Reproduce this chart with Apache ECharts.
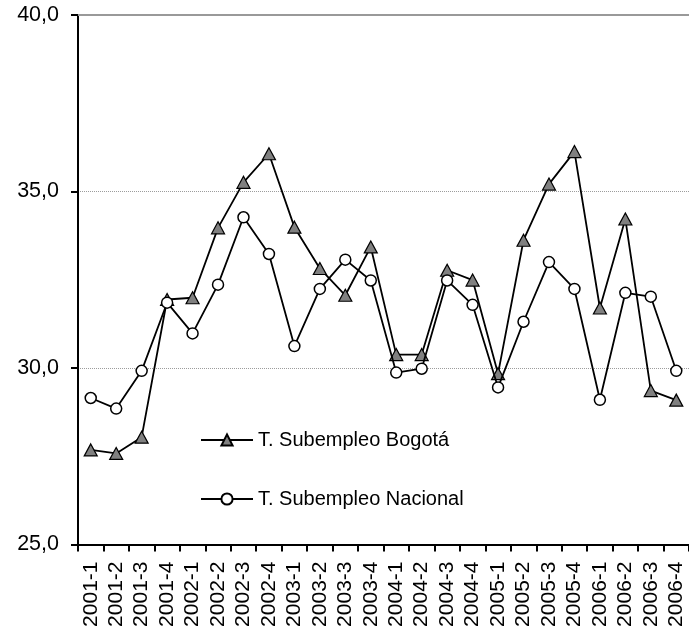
<!DOCTYPE html>
<html>
<head>
<meta charset="utf-8">
<script src="https://cdn.jsdelivr.net/npm/echarts@6/dist/echarts.min.js"></script>
<style>
  html, body { margin: 0; padding: 0; background: #ffffff; }
  #chart { width: 689px; height: 633px; }
</style>
</head>
<body>
<div id="chart"></div>
<script>
// Quarterly underemployment rate (%), Bogotá vs. national
const categories = [
  '2001-1', '2001-2', '2001-3', '2001-4',
  '2002-1', '2002-2', '2002-3', '2002-4',
  '2003-1', '2003-2', '2003-3', '2003-4',
  '2004-1', '2004-2', '2004-3', '2004-4',
  '2005-1', '2005-2', '2005-3', '2005-4',
  '2006-1', '2006-2', '2006-3', '2006-4'
];
const bogota = [
  27.68, 27.58, 28.04, 31.94,
  31.99, 33.97, 35.26, 36.07,
  33.99, 32.82, 32.06, 33.43,
  30.38, 30.38, 32.77, 32.49,
  29.84, 33.62, 35.21, 36.13,
  31.70, 34.22, 29.36, 29.09
];
const nacional = [
  29.15, 28.85, 29.92, 31.85,
  30.98, 32.36, 34.27, 33.23,
  30.62, 32.24, 33.07, 32.48,
  29.87, 29.98, 32.48, 31.79,
  29.45, 31.31, 33.00, 32.24,
  29.10, 32.13, 32.02, 29.92
];
const seriesNames = ['T. Subempleo Bogotá', 'T. Subempleo Nacional'];
const yTicks = { min: 25, max: 40, step: 5 };

const FONT = '"Liberation Sans", Arial, sans-serif';
const chart = echarts.init(document.getElementById('chart'), null, { renderer: 'canvas' });

chart.setOption({
  animation: false,
  backgroundColor: '#ffffff',
  textStyle: { fontFamily: FONT, color: '#000' },
  grid: { left: 78, top: 15, width: 619, height: 529.5, containLabel: false },
  legend: {
    orient: 'vertical',
    left: 195,
    top: 425,
    itemWidth: 52,
    itemHeight: 14,
    itemGap: 39,
    textStyle: { fontFamily: FONT, fontSize: 20, color: '#000' },
    data: seriesNames
  },
  xAxis: [
    {
      type: 'category',
      data: categories,
      boundaryGap: true,
      axisLine: { show: true, lineStyle: { color: '#000', width: 2 } },
      axisTick: { show: true, alignWithLabel: false, length: 7, lineStyle: { color: '#000', width: 2 } },
      axisLabel: {
        rotate: 90,
        interval: 0,
        margin: 17,
        fontFamily: FONT,
        fontSize: 21,
        color: '#000'
      },
      splitLine: { show: false }
    },
    {
      // top frame line at the axis maximum
      type: 'category',
      data: categories,
      position: 'top',
      axisLine: { show: true, lineStyle: { color: '#999999', width: 2 } },
      axisTick: { show: false },
      axisLabel: { show: false },
      splitLine: { show: false }
    }
  ],
  yAxis: {
    type: 'value',
    min: yTicks.min,
    max: yTicks.max,
    interval: yTicks.step,
    axisLine: { show: true, lineStyle: { color: '#000', width: 2 } },
    axisTick: { show: true, length: 7, lineStyle: { color: '#000', width: 2 } },
    axisLabel: {
      margin: 19,
      fontFamily: FONT,
      fontSize: 21.5,
      color: '#000',
      formatter: v => v.toFixed(1).replace('.', ',')
    },
    splitLine: { show: true, lineStyle: { color: '#9c9c9c', width: 1, type: 'dotted' } }
  },
  series: [
    {
      name: seriesNames[0],
      type: 'line',
      data: bogota,
      symbol: 'triangle',
      symbolSize: [13, 12],
      showAllSymbol: true,
      lineStyle: { color: '#000', width: 1.8 },
      itemStyle: { color: '#808080', borderColor: '#000', borderWidth: 1.2 },
      z: 2
    },
    {
      name: seriesNames[1],
      type: 'line',
      data: nacional,
      symbol: 'circle',
      symbolSize: 11,
      showAllSymbol: true,
      lineStyle: { color: '#000', width: 1.8 },
      itemStyle: { color: '#ffffff', borderColor: '#000', borderWidth: 1.5 },
      z: 3
    }
  ]
});
</script>
</body>
</html>
